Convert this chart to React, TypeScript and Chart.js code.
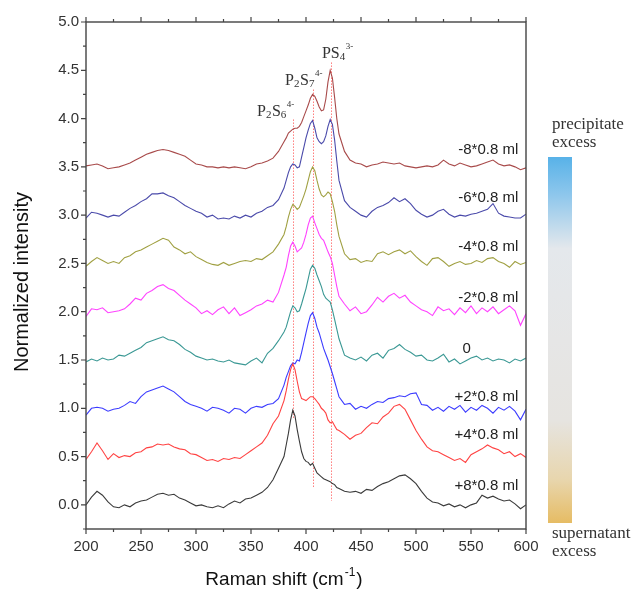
import React, { useEffect, useRef } from "react";
import { Chart, registerables } from "chart.js";
Chart.register(...registerables);

// Raman shift grid (cm-1)
const ramanShift = [
  200, 205, 210, 215, 220, 225, 230, 235, 240, 245, 250, 255, 260, 265, 270, 275, 280, 285, 290, 295,
  300, 305, 310, 315, 320, 325, 330, 335, 340, 345, 350, 355, 360, 365, 370, 375, 380,
  382, 384, 386, 388, 390, 392, 394, 396, 398, 400, 402, 404, 406, 408, 410, 412, 414, 416, 418, 420,
  422, 424, 426, 428, 430,
  435, 440, 445, 450, 455, 460, 465, 470, 475, 480, 485, 490, 495, 500, 505, 510, 515, 520, 525, 530,
  535, 540, 545, 550, 555, 560, 565, 570, 575, 580, 585, 590, 595, 600,
];

// +8*0.8 ml (black)
const plus8 = [
  0.00, 0.08, 0.14, 0.10, 0.03, -0.02, -0.03, 0.00, -0.02, 0.02, 0.04, 0.05, 0.08, 0.11, 0.12, 0.10, 0.11, 0.07, 0.05, 0.02,
  -0.01, 0.00, -0.02, -0.03, -0.01, -0.03, 0.01, 0.04, 0.02, 0.06, 0.07, 0.10, 0.13, 0.18, 0.26, 0.38, 0.50,
  0.62, 0.74, 0.88, 0.98, 0.92, 0.78, 0.66, 0.55, 0.48, 0.45, 0.44, 0.41, 0.43, 0.38, 0.33, 0.31, 0.29, 0.27, 0.26, 0.25,
  0.24, 0.22, 0.21, 0.18, 0.17,
  0.14, 0.13, 0.14, 0.12, 0.16, 0.15, 0.19, 0.22, 0.24, 0.27, 0.30, 0.31, 0.27, 0.22, 0.14, 0.07, 0.03, 0.02, -0.01, 0.01,
  -0.02, 0.00, -0.03, 0.00, 0.02, 0.10, 0.07, 0.09, 0.06, 0.04, 0.05, 0.01, -0.04, 0.00,
];

// +4*0.8 ml (red)
const plus4 = [
  0.47, 0.55, 0.64, 0.56, 0.47, 0.53, 0.49, 0.51, 0.50, 0.54, 0.55, 0.59, 0.60, 0.63, 0.62, 0.63, 0.60, 0.58, 0.57, 0.53,
  0.52, 0.49, 0.46, 0.47, 0.45, 0.48, 0.47, 0.49, 0.48, 0.52, 0.56, 0.60, 0.64, 0.72, 0.84, 0.92, 1.08,
  1.18, 1.30, 1.40, 1.46, 1.40, 1.28, 1.17, 1.10, 1.09, 1.08, 1.10, 1.12, 1.12, 1.10, 1.07, 1.04, 1.00, 0.98, 0.95, 0.88,
  0.85, 0.86, 0.82, 0.78, 0.77,
  0.73, 0.68, 0.72, 0.74, 0.80, 0.85, 0.84, 0.91, 0.95, 1.02, 1.04, 0.99, 0.88, 0.77, 0.68, 0.60, 0.56, 0.55, 0.52, 0.49,
  0.46, 0.48, 0.44, 0.52, 0.55, 0.58, 0.62, 0.59, 0.57, 0.53, 0.55, 0.50, 0.53, 0.49,
];

// +2*0.8 ml (blue)
const plus2 = [
  0.93, 1.00, 1.01, 1.00, 0.97, 0.99, 1.00, 1.03, 1.07, 1.05, 1.12, 1.17, 1.19, 1.21, 1.23, 1.20, 1.17, 1.12, 1.07, 1.04,
  1.02, 1.00, 0.97, 1.01, 1.00, 0.98, 0.95, 1.00, 0.99, 0.95, 1.00, 1.02, 1.01, 1.04, 1.05, 1.10, 1.24,
  1.32, 1.38, 1.44, 1.47, 1.46, 1.50, 1.49, 1.58, 1.68, 1.78, 1.88, 1.96, 1.99, 1.93, 1.84, 1.78, 1.70, 1.62, 1.56, 1.50,
  1.43, 1.36, 1.28, 1.20, 1.12,
  1.04, 1.05, 0.99, 1.02, 1.00, 1.04, 1.07, 1.06, 1.10, 1.11, 1.13, 1.12, 1.15, 1.16, 1.04, 1.03, 0.98, 1.01, 0.97, 1.02,
  0.99, 1.03, 0.96, 1.01, 0.98, 1.03, 1.00, 0.95, 1.01, 0.98, 1.02, 0.97, 0.88, 0.99,
];

// 0 (teal)
const zero = [
  1.48, 1.51, 1.49, 1.52, 1.50, 1.51, 1.55, 1.54, 1.57, 1.60, 1.63, 1.68, 1.70, 1.72, 1.74, 1.71, 1.70, 1.66, 1.61, 1.58,
  1.54, 1.52, 1.50, 1.51, 1.49, 1.48, 1.50, 1.47, 1.46, 1.45, 1.49, 1.52, 1.47, 1.57, 1.62, 1.70, 1.79,
  1.84, 1.92, 2.00, 2.06, 2.04, 2.00, 2.01, 2.08, 2.16, 2.24, 2.34, 2.44, 2.48, 2.45, 2.38, 2.32, 2.26, 2.18, 2.14, 2.12,
  2.10, 2.02, 1.92, 1.82, 1.72,
  1.55, 1.52, 1.50, 1.53, 1.49, 1.55, 1.57, 1.52, 1.60, 1.62, 1.66, 1.61, 1.58, 1.54, 1.55, 1.50, 1.49, 1.52, 1.56, 1.48,
  1.51, 1.46, 1.49, 1.52, 1.54, 1.50, 1.52, 1.49, 1.51, 1.50, 1.47, 1.51, 1.49, 1.52,
];

// -2*0.8 ml (magenta)
const minus2 = [
  1.95, 2.03, 2.02, 2.04, 1.99, 2.00, 2.01, 2.03, 2.08, 2.14, 2.12, 2.19, 2.22, 2.26, 2.28, 2.24, 2.22, 2.17, 2.12, 2.08,
  2.04, 1.98, 2.01, 1.97, 2.02, 2.05, 1.98, 2.04, 1.96, 1.99, 2.02, 2.06, 2.08, 2.12, 2.10, 2.20, 2.38,
  2.46, 2.58, 2.68, 2.72, 2.68, 2.62, 2.64, 2.66, 2.72, 2.80, 2.90, 2.97, 2.99, 2.92, 2.86, 2.80, 2.76, 2.74, 2.68, 2.62,
  2.57, 2.50, 2.38, 2.26, 2.16,
  2.08, 2.01, 2.05, 1.98, 2.00, 2.07, 2.15, 2.10, 2.16, 2.19, 2.14, 2.17, 2.10, 2.06, 2.02, 2.00, 1.96, 2.05, 2.01, 2.03,
  1.97, 2.04, 1.99, 2.06, 1.98, 2.04, 2.00, 2.05, 1.98, 2.02, 2.06, 2.01, 1.86, 1.98,
];

// -4*0.8 ml (olive)
const minus4 = [
  2.47, 2.52, 2.56, 2.53, 2.50, 2.52, 2.50, 2.56, 2.58, 2.62, 2.64, 2.67, 2.70, 2.73, 2.76, 2.74, 2.67, 2.64, 2.60, 2.62,
  2.57, 2.54, 2.51, 2.49, 2.48, 2.51, 2.48, 2.50, 2.52, 2.53, 2.52, 2.55, 2.54, 2.58, 2.62, 2.70, 2.80,
  2.88, 2.98, 3.06, 3.11, 3.09, 3.06, 3.08, 3.14, 3.20, 3.27, 3.36, 3.45, 3.50, 3.46, 3.36, 3.27, 3.21, 3.19, 3.21, 3.24,
  3.22, 3.14, 3.04, 2.90, 2.78,
  2.60, 2.54, 2.55, 2.51, 2.53, 2.52, 2.60, 2.62, 2.59, 2.62, 2.64, 2.60, 2.63, 2.57, 2.52, 2.48, 2.55, 2.56, 2.52, 2.47,
  2.50, 2.52, 2.49, 2.50, 2.53, 2.51, 2.55, 2.56, 2.52, 2.50, 2.46, 2.52, 2.49, 2.51,
];

// -6*0.8 ml (indigo)
const minus6 = [
  2.97, 3.03, 3.02, 3.00, 2.98, 3.00, 2.99, 3.03, 3.07, 3.10, 3.14, 3.17, 3.22, 3.22, 3.23, 3.20, 3.18, 3.14, 3.10, 3.07,
  3.04, 3.02, 2.98, 3.00, 2.96, 2.97, 2.96, 2.99, 2.97, 3.00, 2.98, 3.02, 3.04, 3.08, 3.10, 3.16, 3.28,
  3.36, 3.44, 3.50, 3.53, 3.52, 3.49, 3.50, 3.60, 3.70, 3.80, 3.88, 3.95, 3.98, 3.90, 3.80, 3.76, 3.74, 3.76, 3.82, 3.92,
  3.99, 3.94, 3.78, 3.56, 3.36,
  3.15, 3.08, 3.04, 3.00, 2.98, 3.04, 3.08, 3.10, 3.13, 3.18, 3.14, 3.17, 3.12, 3.05, 3.01, 2.98, 3.00, 3.04, 3.06, 3.01,
  2.98, 3.00, 2.99, 3.01, 3.02, 3.04, 3.06, 3.12, 3.02, 2.99, 2.98, 2.97, 2.97, 3.01,
];

// -8*0.8 ml (dark red)
const minus8 = [
  3.51, 3.52, 3.53, 3.51, 3.48, 3.49, 3.50, 3.52, 3.54, 3.57, 3.60, 3.63, 3.65, 3.67, 3.68, 3.67, 3.65, 3.63, 3.61, 3.57,
  3.53, 3.52, 3.50, 3.50, 3.49, 3.50, 3.49, 3.50, 3.49, 3.48, 3.50, 3.53, 3.54, 3.56, 3.59, 3.66, 3.76,
  3.80, 3.85, 3.87, 3.89, 3.90, 3.90, 3.92, 3.96, 4.02, 4.08, 4.14, 4.21, 4.25, 4.23, 4.18, 4.12, 4.08, 4.09, 4.20, 4.38,
  4.50, 4.42, 4.22, 4.00, 3.84,
  3.66, 3.57, 3.54, 3.53, 3.50, 3.52, 3.53, 3.55, 3.54, 3.53, 3.54, 3.51, 3.50, 3.49, 3.50, 3.51, 3.50, 3.52, 3.57, 3.53,
  3.51, 3.54, 3.52, 3.50, 3.51, 3.53, 3.55, 3.57, 3.53, 3.51, 3.52, 3.50, 3.47, 3.49,
];

const seriesValues = [plus8, plus4, plus2, zero, minus2, minus4, minus6, minus8];
const seriesNames = ["+8*0.8 ml", "+4*0.8 ml", "+2*0.8 ml", "0", "-2*0.8 ml", "-4*0.8 ml", "-6*0.8 ml", "-8*0.8 ml"];
const seriesColors = ["#3a3a3a", "#ff4242", "#3c3cff", "#3a9894", "#ff42ff", "#a0a042", "#4a4aaa", "#a84a4a"];
// label anchors (x in cm-1, y in intensity)
const labelX = [593, 593, 593, 546, 593, 593, 593, 593];
const labelY = [0.2, 0.72, 1.12, 1.62, 2.14, 2.67, 3.18, 3.68];

const xTickValues = [200, 250, 300, 350, 400, 450, 500, 550, 600];
const yTickValues = [0, 0.5, 1, 1.5, 2, 2.5, 3, 3.5, 4, 4.5, 5];

// peak assignments
const peakPositions = [388, 406, 423];
const peakLineTop = [3.99, 4.3, 4.58];
const peakLineBottom = [0.9, 0.18, 0.04];
const peakLabelParts = [
  [["P", "n"], ["2", "sub"], ["S", "n"], ["6", "sub"], ["4-", "sup"]],
  [["P", "n"], ["2", "sub"], ["S", "n"], ["7", "sub"], ["4-", "sup"]],
  [["P", "n"], ["S", "n"], ["4", "sub"], ["3-", "sup"]],
];
const peakLabelX = [355.5, 381, 414.5];
const peakLabelY = [4.03, 4.35, 4.63];

const SANS = '"Liberation Sans", Arial, sans-serif';
const SERIF = '"Liberation Serif", "Times New Roman", serif';

const decor = {
  id: "decor",
  beforeDatasetsDraw(chart: any) {
    const { ctx } = chart;
    const x = chart.scales.x;
    const y = chart.scales.y;
    ctx.save();
    ctx.strokeStyle = "#ff5c5c";
    ctx.lineWidth = 1;
    ctx.setLineDash([1.2, 1.8]);
    peakPositions.forEach((p, i) => {
      const px = Math.round(x.getPixelForValue(p)) + 0.5;
      ctx.beginPath();
      ctx.moveTo(px, y.getPixelForValue(peakLineTop[i]));
      ctx.lineTo(px, y.getPixelForValue(peakLineBottom[i]));
      ctx.stroke();
    });
    ctx.restore();
  },
  afterDraw(chart: any) {
    const { ctx, chartArea } = chart;
    const x = chart.scales.x;
    const y = chart.scales.y;
    const { left, right, top, bottom } = chartArea;
    ctx.save();
    // frame
    ctx.strokeStyle = "#444";
    ctx.lineWidth = 1.4;
    ctx.strokeRect(left, top, right - left, bottom - top);
    // ticks
    ctx.lineWidth = 1.2;
    ctx.beginPath();
    for (let v = 200; v <= 600; v += 25) {
      const px = x.getPixelForValue(v);
      const len = v % 50 === 0 ? 5 : 3;
      ctx.moveTo(px, bottom);
      ctx.lineTo(px, bottom + len);
      ctx.moveTo(px, top);
      ctx.lineTo(px, top - len);
    }
    for (let k = -1; k <= 20; k++) {
      const v = k * 0.25;
      const py = y.getPixelForValue(v);
      const len = k % 2 === 0 ? 5 : 3;
      ctx.moveTo(left, py);
      ctx.lineTo(left - len, py);
    }
    ctx.stroke();

    // series labels
    ctx.fillStyle = "#222";
    ctx.font = `15px ${SANS}`;
    ctx.textBaseline = "middle";
    seriesNames.forEach((name, i) => {
      ctx.textAlign = name === "0" ? "center" : "right";
      ctx.fillText(name, x.getPixelForValue(labelX[i]), y.getPixelForValue(labelY[i]));
    });

    // peak labels
    ctx.fillStyle = "#333";
    ctx.textAlign = "left";
    ctx.textBaseline = "alphabetic";
    peakLabelParts.forEach((parts, i) => {
      let cx = x.getPixelForValue(peakLabelX[i]);
      const base = y.getPixelForValue(peakLabelY[i]);
      parts.forEach(([t, kind]) => {
        let size = 16;
        let dy = 0;
        if (kind === "sub") { size = 11; dy = 2; }
        if (kind === "sup") { size = 9; dy = -9; }
        ctx.font = `${size}px ${SERIF}`;
        ctx.fillText(t, cx, base + dy);
        cx += ctx.measureText(t).width + (kind === "sub" ? 0.5 : 0);
      });
    });

    // axis titles
    ctx.fillStyle = "#111";
    ctx.font = `19px ${SANS}`;
    ctx.textBaseline = "middle";
    const t1 = "Raman shift (cm";
    const w1 = ctx.measureText(t1).width;
    ctx.font = `12px ${SANS}`;
    const wsup = ctx.measureText("-1").width;
    ctx.font = `19px ${SANS}`;
    const wpar = ctx.measureText(")").width;
    const total = w1 + wsup + 2 + wpar;
    let sx = 284 - total / 2;
    ctx.textAlign = "left";
    ctx.fillText(t1, sx, 580);
    sx += w1;
    ctx.font = `12px ${SANS}`;
    ctx.fillText("-1", sx + 1, 573);
    sx += wsup + 2;
    ctx.font = `19px ${SANS}`;
    ctx.fillText(")", sx, 580);

    ctx.save();
    ctx.translate(22, 282);
    ctx.rotate(-Math.PI / 2);
    ctx.textAlign = "center";
    ctx.font = `20px ${SANS}`;
    ctx.fillText("Normalized intensity", 0, 0);
    ctx.restore();

    // colour bar
    const bx = 548, bw = 24, by = 157, bh = 366;
    const g = ctx.createLinearGradient(0, by, 0, by + bh);
    g.addColorStop(0, "#58b2e8");
    g.addColorStop(0.1, "#8cc6ec");
    g.addColorStop(0.25, "#e4e8ec");
    g.addColorStop(0.5, "#e6e6e6");
    g.addColorStop(0.72, "#e6e4e0");
    g.addColorStop(0.88, "#e8d6ae");
    g.addColorStop(1, "#e6bc64");
    ctx.fillStyle = g;
    ctx.fillRect(bx, by, bw, bh);

    ctx.fillStyle = "#333";
    ctx.font = `17px ${SERIF}`;
    ctx.textAlign = "left";
    ctx.textBaseline = "middle";
    ctx.fillText("precipitate", 552, 125);
    ctx.fillText("excess", 552, 143);
    ctx.fillText("supernatant", 552, 534);
    ctx.fillText("excess", 552, 552);
    ctx.restore();
  },
};

export default function App() {
  const ref = useRef<HTMLCanvasElement | null>(null);
  useEffect(() => {
    if (!ref.current) return;
    const chart = new Chart(ref.current, {
      type: "line",
      data: {
        datasets: seriesValues.map((vals, i) => ({
          label: seriesNames[i],
          data: ramanShift.map((xv, j) => ({ x: xv, y: vals[j] })),
          borderColor: seriesColors[i],
          borderWidth: 1.1,
          pointRadius: 0,
          fill: false,
          tension: 0,
        })),
      },
      options: {
        animation: false,
        responsive: false,
        events: [],
        layout: { padding: { left: 0, top: 22, right: 109, bottom: 0 } },
        plugins: { legend: { display: false }, tooltip: { enabled: false }, title: { display: false } },
        scales: {
          x: {
            type: "linear",
            min: 200,
            max: 600,
            afterBuildTicks: (s: any) => { s.ticks = xTickValues.map((v) => ({ value: v })); },
            afterFit: (s: any) => { s.height = 69; },
            grid: { display: false, drawTicks: false },
            border: { display: false },
            ticks: { color: "#333", font: { family: SANS, size: 15 }, padding: 9, maxRotation: 0, autoSkip: false },
          },
          y: {
            type: "linear",
            min: -0.25,
            max: 5,
            afterBuildTicks: (s: any) => { s.ticks = yTickValues.map((v) => ({ value: v })); },
            afterFit: (s: any) => { s.width = 86; },
            grid: { display: false, drawTicks: false },
            border: { display: false },
            ticks: {
              color: "#333",
              font: { family: SANS, size: 15 },
              padding: 7,
              autoSkip: false,
              callback: (v: any) => Number(v).toFixed(1),
            },
          },
        },
      },
      plugins: [decor],
    });
    return () => chart.destroy();
  }, []);
  return (
    <div style={{ position: "absolute", left: 0, top: 0, width: 635, height: 598, background: "#fff" }}>
      <canvas ref={ref} width={635} height={598} style={{ display: "block" }} />
    </div>
  );
}
